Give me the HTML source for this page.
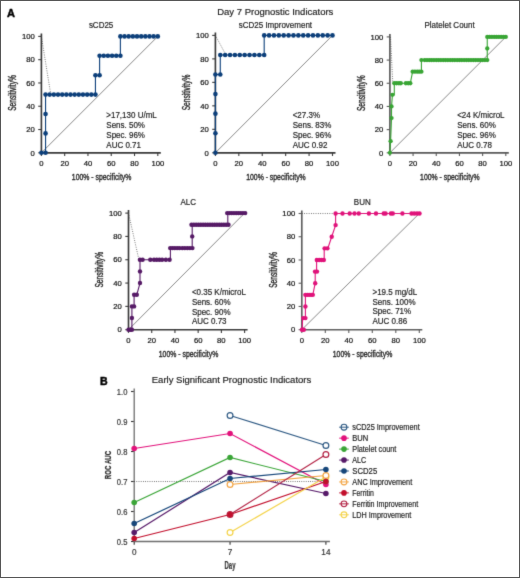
<!DOCTYPE html><html><head><meta charset="utf-8"><style>html,body{margin:0;padding:0;background:#fff;}#w{position:relative;width:520px;height:578px;overflow:hidden;}svg{display:block;font-family:"Liberation Sans",sans-serif;}#bd{position:absolute;left:0;top:0;width:518px;height:576px;border:1px solid #555;}</style></head><body><div id="w">
<svg width="520" height="578" viewBox="0 0 520 578">
<defs><filter id="bf" x="0" y="0" width="520" height="578" filterUnits="userSpaceOnUse" color-interpolation-filters="sRGB"><feConvolveMatrix order="3" kernelMatrix="0.01134 0.08382 0.01134 0.08382 0.61935 0.08382 0.01134 0.08382 0.01134" edgeMode="duplicate" preserveAlpha="true"/></filter></defs><g filter="url(#bf)">
<rect x="0" y="0" width="520" height="578" fill="#fff"/>
<text x="7.00" y="16.60" font-size="11.00" text-anchor="start" fill="#000" font-weight="bold" stroke="#000" stroke-width="0.45">A</text>
<text x="275.30" y="14.90" font-size="9.50" text-anchor="middle" fill="#222" font-weight="normal"  stroke="#222" stroke-width="0.18">Day 7 Prognostic Indicators</text>
<g stroke="#3a3a3a" stroke-width="1.65" fill="none">
<path d="M41.40,33.40 V152.80 H160.80"/>
<path d="M38.20,152.80 H41.40" stroke-width="1.1"/>
<path d="M41.40,152.80 V156.00" stroke-width="1.1"/>
<path d="M38.20,129.52 H41.40" stroke-width="1.1"/>
<path d="M64.68,152.80 V156.00" stroke-width="1.1"/>
<path d="M38.20,106.24 H41.40" stroke-width="1.1"/>
<path d="M87.96,152.80 V156.00" stroke-width="1.1"/>
<path d="M38.20,82.96 H41.40" stroke-width="1.1"/>
<path d="M111.24,152.80 V156.00" stroke-width="1.1"/>
<path d="M38.20,59.68 H41.40" stroke-width="1.1"/>
<path d="M134.52,152.80 V156.00" stroke-width="1.1"/>
<path d="M38.20,36.40 H41.40" stroke-width="1.1"/>
<path d="M157.80,152.80 V156.00" stroke-width="1.1"/>
</g>
<text x="34.80" y="155.50" font-size="7.70" text-anchor="end" fill="#111" font-weight="normal" stroke="#111" stroke-width="0.2">0</text>
<text x="41.40" y="165.90" font-size="7.70" text-anchor="middle" fill="#111" font-weight="normal" stroke="#111" stroke-width="0.2">0</text>
<text x="34.80" y="132.22" font-size="7.70" text-anchor="end" fill="#111" font-weight="normal" stroke="#111" stroke-width="0.2">20</text>
<text x="64.68" y="165.90" font-size="7.70" text-anchor="middle" fill="#111" font-weight="normal" stroke="#111" stroke-width="0.2">20</text>
<text x="34.80" y="108.94" font-size="7.70" text-anchor="end" fill="#111" font-weight="normal" stroke="#111" stroke-width="0.2">40</text>
<text x="87.96" y="165.90" font-size="7.70" text-anchor="middle" fill="#111" font-weight="normal" stroke="#111" stroke-width="0.2">40</text>
<text x="34.80" y="85.66" font-size="7.70" text-anchor="end" fill="#111" font-weight="normal" stroke="#111" stroke-width="0.2">60</text>
<text x="111.24" y="165.90" font-size="7.70" text-anchor="middle" fill="#111" font-weight="normal" stroke="#111" stroke-width="0.2">60</text>
<text x="34.80" y="62.38" font-size="7.70" text-anchor="end" fill="#111" font-weight="normal" stroke="#111" stroke-width="0.2">80</text>
<text x="134.52" y="165.90" font-size="7.70" text-anchor="middle" fill="#111" font-weight="normal" stroke="#111" stroke-width="0.2">80</text>
<text x="34.80" y="39.10" font-size="7.70" text-anchor="end" fill="#111" font-weight="normal" stroke="#111" stroke-width="0.2">100</text>
<text x="157.80" y="165.90" font-size="7.70" text-anchor="middle" fill="#111" font-weight="normal" stroke="#111" stroke-width="0.2">100</text>
<text x="101.60" y="179.80" font-size="9.80" text-anchor="middle" fill="#2a2a2a" font-weight="normal" textLength="59.5" lengthAdjust="spacingAndGlyphs" stroke="#2a2a2a" stroke-width="0.4">100% - specificity%</text>
<text x="0" y="0" font-size="10.2" font-weight="normal" text-anchor="middle" fill="#2a2a2a" stroke="#2a2a2a" stroke-width="0.4" textLength="35.6" lengthAdjust="spacingAndGlyphs" transform="translate(16.10,93.00) rotate(-90)">Sensitivity%</text>
<path d="M41.40,152.80 L157.80,36.40" stroke="#555" stroke-width="0.7" fill="none"/>
<path d="M41.40,36.40 L50.60,93.50" stroke="#4a4a4a" stroke-width="0.85" stroke-dasharray="0.85 1.45" fill="none"/>
<path d="M41.40,152.80 L45.56,152.80 L45.56,94.60 L95.44,94.60 L95.44,75.20 L99.60,75.20 L99.60,55.80 L120.39,55.80 L120.39,36.40 L157.80,36.40" stroke="#0c3f7a" stroke-width="1.1" fill="none"/>
<g fill="#0c3f7a">
<circle cx="41.40" cy="152.80" r="2.3"/>
<circle cx="45.56" cy="152.80" r="2.3"/>
<circle cx="45.56" cy="133.40" r="2.3"/>
<circle cx="45.56" cy="114.00" r="2.3"/>
<circle cx="45.56" cy="94.60" r="2.3"/>
<circle cx="49.71" cy="94.60" r="2.3"/>
<circle cx="53.87" cy="94.60" r="2.3"/>
<circle cx="58.03" cy="94.60" r="2.3"/>
<circle cx="62.19" cy="94.60" r="2.3"/>
<circle cx="66.34" cy="94.60" r="2.3"/>
<circle cx="70.50" cy="94.60" r="2.3"/>
<circle cx="74.66" cy="94.60" r="2.3"/>
<circle cx="78.81" cy="94.60" r="2.3"/>
<circle cx="82.97" cy="94.60" r="2.3"/>
<circle cx="87.13" cy="94.60" r="2.3"/>
<circle cx="91.29" cy="94.60" r="2.3"/>
<circle cx="95.44" cy="94.60" r="2.3"/>
<circle cx="95.44" cy="75.20" r="2.3"/>
<circle cx="99.60" cy="75.20" r="2.3"/>
<circle cx="99.60" cy="55.80" r="2.3"/>
<circle cx="103.76" cy="55.80" r="2.3"/>
<circle cx="107.91" cy="55.80" r="2.3"/>
<circle cx="112.07" cy="55.80" r="2.3"/>
<circle cx="116.23" cy="55.80" r="2.3"/>
<circle cx="120.39" cy="55.80" r="2.3"/>
<circle cx="120.39" cy="36.40" r="2.3"/>
<circle cx="124.54" cy="36.40" r="2.3"/>
<circle cx="128.70" cy="36.40" r="2.3"/>
<circle cx="132.86" cy="36.40" r="2.3"/>
<circle cx="137.01" cy="36.40" r="2.3"/>
<circle cx="141.17" cy="36.40" r="2.3"/>
<circle cx="145.33" cy="36.40" r="2.3"/>
<circle cx="149.49" cy="36.40" r="2.3"/>
<circle cx="153.64" cy="36.40" r="2.3"/>
<circle cx="157.80" cy="36.40" r="2.3"/>
</g>
<text x="101.10" y="27.80" font-size="8.40" text-anchor="middle" fill="#222" font-weight="normal"  textLength="24.45" lengthAdjust="spacingAndGlyphs" stroke="#222" stroke-width="0.18">sCD25</text>
<text x="106.30" y="118.00" font-size="8.40" text-anchor="start" fill="#222" font-weight="normal"  textLength="50.48" lengthAdjust="spacingAndGlyphs" stroke="#222" stroke-width="0.18">&gt;17,130 U/mL</text>
<text x="106.30" y="127.95" font-size="8.40" text-anchor="start" fill="#222" font-weight="normal"  textLength="38.69" lengthAdjust="spacingAndGlyphs" stroke="#222" stroke-width="0.18">Sens. 50%</text>
<text x="106.30" y="137.90" font-size="8.40" text-anchor="start" fill="#222" font-weight="normal"  textLength="38.69" lengthAdjust="spacingAndGlyphs" stroke="#222" stroke-width="0.18">Spec. 96%</text>
<text x="106.30" y="147.85" font-size="8.40" text-anchor="start" fill="#222" font-weight="normal"  textLength="34.68" lengthAdjust="spacingAndGlyphs" stroke="#222" stroke-width="0.18">AUC 0.71</text>
<g stroke="#3a3a3a" stroke-width="1.65" fill="none">
<path d="M215.40,32.40 V152.80 H335.50"/>
<path d="M212.20,152.80 H215.40" stroke-width="1.1"/>
<path d="M215.40,152.80 V156.00" stroke-width="1.1"/>
<path d="M212.20,129.32 H215.40" stroke-width="1.1"/>
<path d="M238.82,152.80 V156.00" stroke-width="1.1"/>
<path d="M212.20,105.84 H215.40" stroke-width="1.1"/>
<path d="M262.24,152.80 V156.00" stroke-width="1.1"/>
<path d="M212.20,82.36 H215.40" stroke-width="1.1"/>
<path d="M285.66,152.80 V156.00" stroke-width="1.1"/>
<path d="M212.20,58.88 H215.40" stroke-width="1.1"/>
<path d="M309.08,152.80 V156.00" stroke-width="1.1"/>
<path d="M212.20,35.40 H215.40" stroke-width="1.1"/>
<path d="M332.50,152.80 V156.00" stroke-width="1.1"/>
</g>
<text x="208.80" y="155.50" font-size="7.70" text-anchor="end" fill="#111" font-weight="normal" stroke="#111" stroke-width="0.2">0</text>
<text x="215.40" y="165.90" font-size="7.70" text-anchor="middle" fill="#111" font-weight="normal" stroke="#111" stroke-width="0.2">0</text>
<text x="208.80" y="132.02" font-size="7.70" text-anchor="end" fill="#111" font-weight="normal" stroke="#111" stroke-width="0.2">20</text>
<text x="238.82" y="165.90" font-size="7.70" text-anchor="middle" fill="#111" font-weight="normal" stroke="#111" stroke-width="0.2">20</text>
<text x="208.80" y="108.54" font-size="7.70" text-anchor="end" fill="#111" font-weight="normal" stroke="#111" stroke-width="0.2">40</text>
<text x="262.24" y="165.90" font-size="7.70" text-anchor="middle" fill="#111" font-weight="normal" stroke="#111" stroke-width="0.2">40</text>
<text x="208.80" y="85.06" font-size="7.70" text-anchor="end" fill="#111" font-weight="normal" stroke="#111" stroke-width="0.2">60</text>
<text x="285.66" y="165.90" font-size="7.70" text-anchor="middle" fill="#111" font-weight="normal" stroke="#111" stroke-width="0.2">60</text>
<text x="208.80" y="61.58" font-size="7.70" text-anchor="end" fill="#111" font-weight="normal" stroke="#111" stroke-width="0.2">80</text>
<text x="309.08" y="165.90" font-size="7.70" text-anchor="middle" fill="#111" font-weight="normal" stroke="#111" stroke-width="0.2">80</text>
<text x="208.80" y="38.10" font-size="7.70" text-anchor="end" fill="#111" font-weight="normal" stroke="#111" stroke-width="0.2">100</text>
<text x="332.50" y="165.90" font-size="7.70" text-anchor="middle" fill="#111" font-weight="normal" stroke="#111" stroke-width="0.2">100</text>
<text x="275.95" y="179.80" font-size="9.80" text-anchor="middle" fill="#2a2a2a" font-weight="normal" textLength="59.5" lengthAdjust="spacingAndGlyphs" stroke="#2a2a2a" stroke-width="0.4">100% - specificity%</text>
<text x="0" y="0" font-size="10.2" font-weight="normal" text-anchor="middle" fill="#2a2a2a" stroke="#2a2a2a" stroke-width="0.4" textLength="35.6" lengthAdjust="spacingAndGlyphs" transform="translate(190.10,92.50) rotate(-90)">Sensitivity%</text>
<path d="M215.40,152.80 L332.50,35.40" stroke="#555" stroke-width="0.7" fill="none"/>
<path d="M215.40,35.40 L225.20,53.60" stroke="#4a4a4a" stroke-width="0.85" stroke-dasharray="0.85 1.45" fill="none"/>
<path d="M215.40,152.80 L215.40,74.53 L220.28,74.53 L220.28,54.97 L264.19,54.97 L264.19,35.40 L332.50,35.40" stroke="#0c3f7a" stroke-width="1.1" fill="none"/>
<g fill="#0c3f7a">
<circle cx="215.40" cy="152.80" r="2.3"/>
<circle cx="215.40" cy="133.23" r="2.3"/>
<circle cx="215.40" cy="113.67" r="2.3"/>
<circle cx="215.40" cy="94.10" r="2.3"/>
<circle cx="215.40" cy="74.53" r="2.3"/>
<circle cx="220.28" cy="74.53" r="2.3"/>
<circle cx="220.28" cy="54.97" r="2.3"/>
<circle cx="225.16" cy="54.97" r="2.3"/>
<circle cx="230.04" cy="54.97" r="2.3"/>
<circle cx="234.92" cy="54.97" r="2.3"/>
<circle cx="239.80" cy="54.97" r="2.3"/>
<circle cx="244.68" cy="54.97" r="2.3"/>
<circle cx="249.55" cy="54.97" r="2.3"/>
<circle cx="254.43" cy="54.97" r="2.3"/>
<circle cx="259.31" cy="54.97" r="2.3"/>
<circle cx="264.19" cy="54.97" r="2.3"/>
<circle cx="264.19" cy="35.40" r="2.3"/>
<circle cx="269.07" cy="35.40" r="2.3"/>
<circle cx="273.95" cy="35.40" r="2.3"/>
<circle cx="278.83" cy="35.40" r="2.3"/>
<circle cx="283.71" cy="35.40" r="2.3"/>
<circle cx="288.59" cy="35.40" r="2.3"/>
<circle cx="293.47" cy="35.40" r="2.3"/>
<circle cx="298.35" cy="35.40" r="2.3"/>
<circle cx="303.23" cy="35.40" r="2.3"/>
<circle cx="308.10" cy="35.40" r="2.3"/>
<circle cx="312.98" cy="35.40" r="2.3"/>
<circle cx="317.86" cy="35.40" r="2.3"/>
<circle cx="322.74" cy="35.40" r="2.3"/>
<circle cx="327.62" cy="35.40" r="2.3"/>
<circle cx="332.50" cy="35.40" r="2.3"/>
</g>
<text x="275.40" y="27.80" font-size="8.40" text-anchor="middle" fill="#222" font-weight="normal"  textLength="73.36" lengthAdjust="spacingAndGlyphs" stroke="#222" stroke-width="0.18">sCD25 Improvement</text>
<text x="292.70" y="118.00" font-size="8.40" text-anchor="start" fill="#222" font-weight="normal"  textLength="27.36" lengthAdjust="spacingAndGlyphs" stroke="#222" stroke-width="0.18">&lt;27.3%</text>
<text x="292.70" y="127.95" font-size="8.40" text-anchor="start" fill="#222" font-weight="normal"  textLength="38.69" lengthAdjust="spacingAndGlyphs" stroke="#222" stroke-width="0.18">Sens. 83%</text>
<text x="292.70" y="137.90" font-size="8.40" text-anchor="start" fill="#222" font-weight="normal"  textLength="38.69" lengthAdjust="spacingAndGlyphs" stroke="#222" stroke-width="0.18">Spec. 96%</text>
<text x="292.70" y="147.85" font-size="8.40" text-anchor="start" fill="#222" font-weight="normal"  textLength="34.68" lengthAdjust="spacingAndGlyphs" stroke="#222" stroke-width="0.18">AUC 0.92</text>
<g stroke="#5a5a5a" stroke-width="1.65" fill="none">
<path d="M389.90,33.90 V152.80 H508.80"/>
<path d="M386.70,152.80 H389.90" stroke-width="1.1"/>
<path d="M389.90,152.80 V156.00" stroke-width="1.1"/>
<path d="M386.70,129.62 H389.90" stroke-width="1.1"/>
<path d="M413.08,152.80 V156.00" stroke-width="1.1"/>
<path d="M386.70,106.44 H389.90" stroke-width="1.1"/>
<path d="M436.26,152.80 V156.00" stroke-width="1.1"/>
<path d="M386.70,83.26 H389.90" stroke-width="1.1"/>
<path d="M459.44,152.80 V156.00" stroke-width="1.1"/>
<path d="M386.70,60.08 H389.90" stroke-width="1.1"/>
<path d="M482.62,152.80 V156.00" stroke-width="1.1"/>
<path d="M386.70,36.90 H389.90" stroke-width="1.1"/>
<path d="M505.80,152.80 V156.00" stroke-width="1.1"/>
</g>
<text x="383.30" y="155.50" font-size="7.70" text-anchor="end" fill="#111" font-weight="normal" stroke="#111" stroke-width="0.2">0</text>
<text x="389.90" y="165.90" font-size="7.70" text-anchor="middle" fill="#111" font-weight="normal" stroke="#111" stroke-width="0.2">0</text>
<text x="383.30" y="132.32" font-size="7.70" text-anchor="end" fill="#111" font-weight="normal" stroke="#111" stroke-width="0.2">20</text>
<text x="413.08" y="165.90" font-size="7.70" text-anchor="middle" fill="#111" font-weight="normal" stroke="#111" stroke-width="0.2">20</text>
<text x="383.30" y="109.14" font-size="7.70" text-anchor="end" fill="#111" font-weight="normal" stroke="#111" stroke-width="0.2">40</text>
<text x="436.26" y="165.90" font-size="7.70" text-anchor="middle" fill="#111" font-weight="normal" stroke="#111" stroke-width="0.2">40</text>
<text x="383.30" y="85.96" font-size="7.70" text-anchor="end" fill="#111" font-weight="normal" stroke="#111" stroke-width="0.2">60</text>
<text x="459.44" y="165.90" font-size="7.70" text-anchor="middle" fill="#111" font-weight="normal" stroke="#111" stroke-width="0.2">60</text>
<text x="383.30" y="62.78" font-size="7.70" text-anchor="end" fill="#111" font-weight="normal" stroke="#111" stroke-width="0.2">80</text>
<text x="482.62" y="165.90" font-size="7.70" text-anchor="middle" fill="#111" font-weight="normal" stroke="#111" stroke-width="0.2">80</text>
<text x="383.30" y="39.60" font-size="7.70" text-anchor="end" fill="#111" font-weight="normal" stroke="#111" stroke-width="0.2">100</text>
<text x="505.80" y="165.90" font-size="7.70" text-anchor="middle" fill="#111" font-weight="normal" stroke="#111" stroke-width="0.2">100</text>
<text x="449.85" y="179.80" font-size="9.80" text-anchor="middle" fill="#2a2a2a" font-weight="normal" textLength="59.5" lengthAdjust="spacingAndGlyphs" stroke="#2a2a2a" stroke-width="0.4">100% - specificity%</text>
<text x="0" y="0" font-size="10.2" font-weight="normal" text-anchor="middle" fill="#2a2a2a" stroke="#2a2a2a" stroke-width="0.4" textLength="35.6" lengthAdjust="spacingAndGlyphs" transform="translate(364.60,93.25) rotate(-90)">Sensitivity%</text>
<path d="M389.90,152.80 L505.80,36.90" stroke="#555" stroke-width="0.7" fill="none"/>
<path d="M390.50,36.90 L392.80,83.00" stroke="#4a4a4a" stroke-width="0.85" stroke-dasharray="0.85 1.45" fill="none"/>
<path d="M389.90,152.80 L390.60,141.21 L391.52,118.03 L391.52,106.44 L392.45,94.85 L394.30,94.85 L394.30,83.26 L410.30,83.26 L412.62,71.67 L421.42,71.67 L421.42,60.08 L487.26,60.08 L487.26,36.90 L505.80,36.90" stroke="#38a534" stroke-width="1.1" fill="none"/>
<g fill="#38a534">
<circle cx="389.90" cy="152.80" r="2.15"/>
<circle cx="390.60" cy="141.21" r="2.15"/>
<circle cx="391.52" cy="118.03" r="2.15"/>
<circle cx="391.52" cy="106.44" r="2.15"/>
<circle cx="392.45" cy="94.85" r="2.15"/>
<circle cx="394.30" cy="83.26" r="2.15"/>
<circle cx="396.62" cy="83.26" r="2.15"/>
<circle cx="398.94" cy="83.26" r="2.15"/>
<circle cx="400.79" cy="83.26" r="2.15"/>
<circle cx="405.89" cy="83.26" r="2.15"/>
<circle cx="408.21" cy="83.26" r="2.15"/>
<circle cx="410.30" cy="83.26" r="2.15"/>
<circle cx="412.62" cy="71.67" r="2.15"/>
<circle cx="414.93" cy="71.67" r="2.15"/>
<circle cx="417.25" cy="71.67" r="2.15"/>
<circle cx="419.34" cy="71.67" r="2.15"/>
<circle cx="421.42" cy="71.67" r="2.15"/>
<circle cx="421.42" cy="60.08" r="2.15"/>
<circle cx="424.67" cy="60.08" r="2.15"/>
<circle cx="426.99" cy="60.08" r="2.15"/>
<circle cx="429.31" cy="60.08" r="2.15"/>
<circle cx="431.62" cy="60.08" r="2.15"/>
<circle cx="433.94" cy="60.08" r="2.15"/>
<circle cx="436.26" cy="60.08" r="2.15"/>
<circle cx="438.58" cy="60.08" r="2.15"/>
<circle cx="440.90" cy="60.08" r="2.15"/>
<circle cx="443.21" cy="60.08" r="2.15"/>
<circle cx="445.53" cy="60.08" r="2.15"/>
<circle cx="447.85" cy="60.08" r="2.15"/>
<circle cx="450.17" cy="60.08" r="2.15"/>
<circle cx="452.49" cy="60.08" r="2.15"/>
<circle cx="454.80" cy="60.08" r="2.15"/>
<circle cx="457.12" cy="60.08" r="2.15"/>
<circle cx="459.44" cy="60.08" r="2.15"/>
<circle cx="461.76" cy="60.08" r="2.15"/>
<circle cx="464.08" cy="60.08" r="2.15"/>
<circle cx="466.39" cy="60.08" r="2.15"/>
<circle cx="468.71" cy="60.08" r="2.15"/>
<circle cx="471.03" cy="60.08" r="2.15"/>
<circle cx="473.35" cy="60.08" r="2.15"/>
<circle cx="475.67" cy="60.08" r="2.15"/>
<circle cx="477.98" cy="60.08" r="2.15"/>
<circle cx="480.30" cy="60.08" r="2.15"/>
<circle cx="482.62" cy="60.08" r="2.15"/>
<circle cx="484.94" cy="60.08" r="2.15"/>
<circle cx="487.26" cy="60.08" r="2.15"/>
<circle cx="487.26" cy="48.49" r="2.15"/>
<circle cx="487.26" cy="36.90" r="2.15"/>
<circle cx="489.57" cy="36.90" r="2.15"/>
<circle cx="491.89" cy="36.90" r="2.15"/>
<circle cx="494.21" cy="36.90" r="2.15"/>
<circle cx="496.53" cy="36.90" r="2.15"/>
<circle cx="498.85" cy="36.90" r="2.15"/>
<circle cx="501.16" cy="36.90" r="2.15"/>
<circle cx="503.48" cy="36.90" r="2.15"/>
<circle cx="505.80" cy="36.90" r="2.15"/>
</g>
<text x="449.60" y="27.80" font-size="8.40" text-anchor="middle" fill="#222" font-weight="normal"  textLength="50.26" lengthAdjust="spacingAndGlyphs" stroke="#222" stroke-width="0.18">Platelet Count</text>
<text x="457.20" y="118.00" font-size="8.40" text-anchor="start" fill="#222" font-weight="normal"  textLength="47.36" lengthAdjust="spacingAndGlyphs" stroke="#222" stroke-width="0.18">&lt;24 K/microL</text>
<text x="457.20" y="127.95" font-size="8.40" text-anchor="start" fill="#222" font-weight="normal"  textLength="38.69" lengthAdjust="spacingAndGlyphs" stroke="#222" stroke-width="0.18">Sens. 60%</text>
<text x="457.20" y="137.90" font-size="8.40" text-anchor="start" fill="#222" font-weight="normal"  textLength="38.69" lengthAdjust="spacingAndGlyphs" stroke="#222" stroke-width="0.18">Spec. 96%</text>
<text x="457.20" y="147.85" font-size="8.40" text-anchor="start" fill="#222" font-weight="normal"  textLength="34.68" lengthAdjust="spacingAndGlyphs" stroke="#222" stroke-width="0.18">AUC 0.78</text>
<g stroke="#3a3a3a" stroke-width="1.65" fill="none">
<path d="M128.50,210.10 V329.70 H247.60"/>
<path d="M125.30,329.70 H128.50" stroke-width="1.1"/>
<path d="M128.50,329.70 V332.90" stroke-width="1.1"/>
<path d="M125.30,306.38 H128.50" stroke-width="1.1"/>
<path d="M151.72,329.70 V332.90" stroke-width="1.1"/>
<path d="M125.30,283.06 H128.50" stroke-width="1.1"/>
<path d="M174.94,329.70 V332.90" stroke-width="1.1"/>
<path d="M125.30,259.74 H128.50" stroke-width="1.1"/>
<path d="M198.16,329.70 V332.90" stroke-width="1.1"/>
<path d="M125.30,236.42 H128.50" stroke-width="1.1"/>
<path d="M221.38,329.70 V332.90" stroke-width="1.1"/>
<path d="M125.30,213.10 H128.50" stroke-width="1.1"/>
<path d="M244.60,329.70 V332.90" stroke-width="1.1"/>
</g>
<text x="121.90" y="332.40" font-size="7.70" text-anchor="end" fill="#111" font-weight="normal" stroke="#111" stroke-width="0.2">0</text>
<text x="128.50" y="342.80" font-size="7.70" text-anchor="middle" fill="#111" font-weight="normal" stroke="#111" stroke-width="0.2">0</text>
<text x="121.90" y="309.08" font-size="7.70" text-anchor="end" fill="#111" font-weight="normal" stroke="#111" stroke-width="0.2">20</text>
<text x="151.72" y="342.80" font-size="7.70" text-anchor="middle" fill="#111" font-weight="normal" stroke="#111" stroke-width="0.2">20</text>
<text x="121.90" y="285.76" font-size="7.70" text-anchor="end" fill="#111" font-weight="normal" stroke="#111" stroke-width="0.2">40</text>
<text x="174.94" y="342.80" font-size="7.70" text-anchor="middle" fill="#111" font-weight="normal" stroke="#111" stroke-width="0.2">40</text>
<text x="121.90" y="262.44" font-size="7.70" text-anchor="end" fill="#111" font-weight="normal" stroke="#111" stroke-width="0.2">60</text>
<text x="198.16" y="342.80" font-size="7.70" text-anchor="middle" fill="#111" font-weight="normal" stroke="#111" stroke-width="0.2">60</text>
<text x="121.90" y="239.12" font-size="7.70" text-anchor="end" fill="#111" font-weight="normal" stroke="#111" stroke-width="0.2">80</text>
<text x="221.38" y="342.80" font-size="7.70" text-anchor="middle" fill="#111" font-weight="normal" stroke="#111" stroke-width="0.2">80</text>
<text x="121.90" y="215.80" font-size="7.70" text-anchor="end" fill="#111" font-weight="normal" stroke="#111" stroke-width="0.2">100</text>
<text x="244.60" y="342.80" font-size="7.70" text-anchor="middle" fill="#111" font-weight="normal" stroke="#111" stroke-width="0.2">100</text>
<text x="188.55" y="356.70" font-size="9.80" text-anchor="middle" fill="#2a2a2a" font-weight="normal" textLength="59.5" lengthAdjust="spacingAndGlyphs" stroke="#2a2a2a" stroke-width="0.4">100% - specificity%</text>
<text x="0" y="0" font-size="10.2" font-weight="normal" text-anchor="middle" fill="#2a2a2a" stroke="#2a2a2a" stroke-width="0.4" textLength="35.6" lengthAdjust="spacingAndGlyphs" transform="translate(103.20,269.80) rotate(-90)">Sensitivity%</text>
<path d="M128.50,329.70 L244.60,213.10" stroke="#555" stroke-width="0.7" fill="none"/>
<path d="M128.50,213.10 L138.50,257.90" stroke="#4a4a4a" stroke-width="0.85" stroke-dasharray="0.85 1.45" fill="none"/>
<path d="M128.50,329.70 L131.90,329.70 L131.90,306.38 L134.10,306.38 L134.10,294.72 L136.80,294.72 L140.00,283.06 L140.00,259.74 L170.40,259.74 L170.40,248.08 L192.20,248.08 L192.20,224.76 L227.80,224.76 L227.80,213.10 L244.60,213.10" stroke="#561a66" stroke-width="1.1" fill="none"/>
<g fill="#561a66">
<circle cx="128.50" cy="329.70" r="2.2"/>
<circle cx="130.30" cy="329.70" r="2.2"/>
<circle cx="131.90" cy="329.70" r="2.2"/>
<circle cx="131.90" cy="318.04" r="2.2"/>
<circle cx="131.90" cy="306.38" r="2.2"/>
<circle cx="134.10" cy="306.38" r="2.2"/>
<circle cx="134.10" cy="294.72" r="2.2"/>
<circle cx="136.80" cy="294.72" r="2.2"/>
<circle cx="140.00" cy="283.06" r="2.2"/>
<circle cx="140.00" cy="271.40" r="2.2"/>
<circle cx="139.90" cy="259.74" r="2.2"/>
<circle cx="142.60" cy="259.74" r="2.2"/>
<circle cx="150.30" cy="259.74" r="2.2"/>
<circle cx="154.00" cy="259.74" r="2.2"/>
<circle cx="156.70" cy="259.74" r="2.2"/>
<circle cx="159.40" cy="259.74" r="2.2"/>
<circle cx="162.10" cy="259.74" r="2.2"/>
<circle cx="165.90" cy="259.74" r="2.2"/>
<circle cx="169.60" cy="259.74" r="2.2"/>
<circle cx="170.20" cy="248.08" r="2.2"/>
<circle cx="172.50" cy="248.08" r="2.2"/>
<circle cx="174.80" cy="248.08" r="2.2"/>
<circle cx="177.10" cy="248.08" r="2.2"/>
<circle cx="179.40" cy="248.08" r="2.2"/>
<circle cx="182.30" cy="248.08" r="2.2"/>
<circle cx="184.83" cy="248.08" r="2.2"/>
<circle cx="187.35" cy="248.08" r="2.2"/>
<circle cx="189.88" cy="248.08" r="2.2"/>
<circle cx="192.40" cy="248.08" r="2.2"/>
<circle cx="192.20" cy="236.42" r="2.2"/>
<circle cx="191.50" cy="224.76" r="2.2"/>
<circle cx="193.81" cy="224.76" r="2.2"/>
<circle cx="196.12" cy="224.76" r="2.2"/>
<circle cx="198.44" cy="224.76" r="2.2"/>
<circle cx="200.75" cy="224.76" r="2.2"/>
<circle cx="203.06" cy="224.76" r="2.2"/>
<circle cx="205.38" cy="224.76" r="2.2"/>
<circle cx="207.69" cy="224.76" r="2.2"/>
<circle cx="210.00" cy="224.76" r="2.2"/>
<circle cx="212.31" cy="224.76" r="2.2"/>
<circle cx="214.62" cy="224.76" r="2.2"/>
<circle cx="216.94" cy="224.76" r="2.2"/>
<circle cx="219.25" cy="224.76" r="2.2"/>
<circle cx="221.56" cy="224.76" r="2.2"/>
<circle cx="223.88" cy="224.76" r="2.2"/>
<circle cx="226.19" cy="224.76" r="2.2"/>
<circle cx="228.50" cy="224.76" r="2.2"/>
<circle cx="227.20" cy="213.10" r="2.2"/>
<circle cx="229.45" cy="213.10" r="2.2"/>
<circle cx="231.70" cy="213.10" r="2.2"/>
<circle cx="233.95" cy="213.10" r="2.2"/>
<circle cx="236.20" cy="213.10" r="2.2"/>
<circle cx="238.45" cy="213.10" r="2.2"/>
<circle cx="240.70" cy="213.10" r="2.2"/>
<circle cx="242.95" cy="213.10" r="2.2"/>
<circle cx="245.20" cy="213.10" r="2.2"/>
</g>
<text x="188.30" y="204.70" font-size="8.40" text-anchor="middle" fill="#222" font-weight="normal"  textLength="15.56" lengthAdjust="spacingAndGlyphs" stroke="#222" stroke-width="0.18">ALC</text>
<text x="191.90" y="295.00" font-size="8.40" text-anchor="start" fill="#222" font-weight="normal"  textLength="54.03" lengthAdjust="spacingAndGlyphs" stroke="#222" stroke-width="0.18">&lt;0.35 K/microL</text>
<text x="191.90" y="304.80" font-size="8.40" text-anchor="start" fill="#222" font-weight="normal"  textLength="38.69" lengthAdjust="spacingAndGlyphs" stroke="#222" stroke-width="0.18">Sens. 60%</text>
<text x="191.90" y="314.60" font-size="8.40" text-anchor="start" fill="#222" font-weight="normal"  textLength="38.69" lengthAdjust="spacingAndGlyphs" stroke="#222" stroke-width="0.18">Spec. 90%</text>
<text x="191.90" y="324.40" font-size="8.40" text-anchor="start" fill="#222" font-weight="normal"  textLength="34.68" lengthAdjust="spacingAndGlyphs" stroke="#222" stroke-width="0.18">AUC 0.73</text>
<g stroke="#5e5e5e" stroke-width="1.65" fill="none">
<path d="M301.80,210.50 V329.70 H422.30"/>
<path d="M298.60,329.70 H301.80" stroke-width="1.1"/>
<path d="M301.80,329.70 V332.90" stroke-width="1.1"/>
<path d="M298.60,306.46 H301.80" stroke-width="1.1"/>
<path d="M325.30,329.70 V332.90" stroke-width="1.1"/>
<path d="M298.60,283.22 H301.80" stroke-width="1.1"/>
<path d="M348.80,329.70 V332.90" stroke-width="1.1"/>
<path d="M298.60,259.98 H301.80" stroke-width="1.1"/>
<path d="M372.30,329.70 V332.90" stroke-width="1.1"/>
<path d="M298.60,236.74 H301.80" stroke-width="1.1"/>
<path d="M395.80,329.70 V332.90" stroke-width="1.1"/>
<path d="M298.60,213.50 H301.80" stroke-width="1.1"/>
<path d="M419.30,329.70 V332.90" stroke-width="1.1"/>
</g>
<text x="295.20" y="332.40" font-size="7.70" text-anchor="end" fill="#111" font-weight="normal" stroke="#111" stroke-width="0.2">0</text>
<text x="301.80" y="342.80" font-size="7.70" text-anchor="middle" fill="#111" font-weight="normal" stroke="#111" stroke-width="0.2">0</text>
<text x="295.20" y="309.16" font-size="7.70" text-anchor="end" fill="#111" font-weight="normal" stroke="#111" stroke-width="0.2">20</text>
<text x="325.30" y="342.80" font-size="7.70" text-anchor="middle" fill="#111" font-weight="normal" stroke="#111" stroke-width="0.2">20</text>
<text x="295.20" y="285.92" font-size="7.70" text-anchor="end" fill="#111" font-weight="normal" stroke="#111" stroke-width="0.2">40</text>
<text x="348.80" y="342.80" font-size="7.70" text-anchor="middle" fill="#111" font-weight="normal" stroke="#111" stroke-width="0.2">40</text>
<text x="295.20" y="262.68" font-size="7.70" text-anchor="end" fill="#111" font-weight="normal" stroke="#111" stroke-width="0.2">60</text>
<text x="372.30" y="342.80" font-size="7.70" text-anchor="middle" fill="#111" font-weight="normal" stroke="#111" stroke-width="0.2">60</text>
<text x="295.20" y="239.44" font-size="7.70" text-anchor="end" fill="#111" font-weight="normal" stroke="#111" stroke-width="0.2">80</text>
<text x="395.80" y="342.80" font-size="7.70" text-anchor="middle" fill="#111" font-weight="normal" stroke="#111" stroke-width="0.2">80</text>
<text x="295.20" y="216.20" font-size="7.70" text-anchor="end" fill="#111" font-weight="normal" stroke="#111" stroke-width="0.2">100</text>
<text x="419.30" y="342.80" font-size="7.70" text-anchor="middle" fill="#111" font-weight="normal" stroke="#111" stroke-width="0.2">100</text>
<text x="362.55" y="356.70" font-size="9.80" text-anchor="middle" fill="#2a2a2a" font-weight="normal" textLength="59.5" lengthAdjust="spacingAndGlyphs" stroke="#2a2a2a" stroke-width="0.4">100% - specificity%</text>
<text x="0" y="0" font-size="10.2" font-weight="normal" text-anchor="middle" fill="#2a2a2a" stroke="#2a2a2a" stroke-width="0.4" textLength="35.6" lengthAdjust="spacingAndGlyphs" transform="translate(276.50,270.00) rotate(-90)">Sensitivity%</text>
<path d="M301.80,329.70 L419.30,213.50" stroke="#555" stroke-width="0.7" fill="none"/>
<path d="M301.80,213.50 L335.40,213.50" stroke="#4a4a4a" stroke-width="0.85" stroke-dasharray="0.85 1.45" fill="none"/>
<path d="M302.20,329.70 L302.60,318.08 L305.40,318.08 L305.40,294.84 L312.80,294.84 L315.20,283.22 L315.20,271.60 L316.60,271.60 L316.60,259.98 L324.20,259.98 L324.20,248.36 L327.80,248.36 L331.70,236.74 L335.60,225.12 L335.60,213.50 L419.50,213.50" stroke="#e0127a" stroke-width="1.1" fill="none"/>
<g fill="#e0127a">
<circle cx="302.00" cy="329.70" r="2.2"/>
<circle cx="303.80" cy="329.70" r="2.2"/>
<circle cx="303.20" cy="318.08" r="2.2"/>
<circle cx="305.40" cy="318.08" r="2.2"/>
<circle cx="305.40" cy="306.46" r="2.2"/>
<circle cx="305.40" cy="294.84" r="2.2"/>
<circle cx="307.30" cy="294.84" r="2.2"/>
<circle cx="309.20" cy="294.84" r="2.2"/>
<circle cx="311.10" cy="294.84" r="2.2"/>
<circle cx="312.80" cy="294.84" r="2.2"/>
<circle cx="315.20" cy="283.22" r="2.2"/>
<circle cx="315.00" cy="271.60" r="2.2"/>
<circle cx="317.00" cy="271.60" r="2.2"/>
<circle cx="316.80" cy="259.98" r="2.2"/>
<circle cx="319.20" cy="259.98" r="2.2"/>
<circle cx="321.60" cy="259.98" r="2.2"/>
<circle cx="323.80" cy="259.98" r="2.2"/>
<circle cx="324.60" cy="248.36" r="2.2"/>
<circle cx="327.40" cy="248.36" r="2.2"/>
<circle cx="331.70" cy="236.74" r="2.2"/>
<circle cx="335.60" cy="225.12" r="2.2"/>
<circle cx="335.60" cy="213.50" r="2.2"/>
<circle cx="342.50" cy="213.50" r="2.2"/>
<circle cx="349.70" cy="213.50" r="2.2"/>
<circle cx="354.50" cy="213.50" r="2.2"/>
<circle cx="358.80" cy="213.50" r="2.2"/>
<circle cx="368.90" cy="213.50" r="2.2"/>
<circle cx="376.00" cy="213.50" r="2.2"/>
<circle cx="383.70" cy="213.50" r="2.2"/>
<circle cx="385.60" cy="213.50" r="2.2"/>
<circle cx="390.90" cy="213.50" r="2.2"/>
<circle cx="392.80" cy="213.50" r="2.2"/>
<circle cx="402.40" cy="213.50" r="2.2"/>
<circle cx="411.50" cy="213.50" r="2.2"/>
<circle cx="414.20" cy="213.50" r="2.2"/>
<circle cx="417.00" cy="213.50" r="2.2"/>
<circle cx="419.50" cy="213.50" r="2.2"/>
</g>
<text x="362.30" y="204.70" font-size="8.40" text-anchor="middle" fill="#222" font-weight="normal"  textLength="16.89" lengthAdjust="spacingAndGlyphs" stroke="#222" stroke-width="0.18">BUN</text>
<text x="372.50" y="294.60" font-size="8.40" text-anchor="start" fill="#222" font-weight="normal"  textLength="44.70" lengthAdjust="spacingAndGlyphs" stroke="#222" stroke-width="0.18">&gt;19.5 mg/dL</text>
<text x="372.50" y="304.50" font-size="8.40" text-anchor="start" fill="#222" font-weight="normal"  textLength="43.14" lengthAdjust="spacingAndGlyphs" stroke="#222" stroke-width="0.18">Sens. 100%</text>
<text x="372.50" y="314.40" font-size="8.40" text-anchor="start" fill="#222" font-weight="normal"  textLength="38.69" lengthAdjust="spacingAndGlyphs" stroke="#222" stroke-width="0.18">Spec. 71%</text>
<text x="372.50" y="324.30" font-size="8.40" text-anchor="start" fill="#222" font-weight="normal"  textLength="34.68" lengthAdjust="spacingAndGlyphs" stroke="#222" stroke-width="0.18">AUC 0.86</text>
<text x="99.90" y="384.60" font-size="10.60" text-anchor="start" fill="#000" font-weight="bold" stroke="#000" stroke-width="0.45">B</text>
<text x="231.50" y="383.30" font-size="9.50" text-anchor="middle" fill="#222" font-weight="normal"  stroke="#222" stroke-width="0.18">Early Significant Prognostic Indicators</text>
<g stroke="#6e6e6e" stroke-width="1.3" fill="none">
<path d="M134.20,388.50 V541.50 H329.90"/>
<path d="M131.00,541.50 H133.70" stroke-width="1.1" stroke="#333"/>
<path d="M131.00,511.50 H133.70" stroke-width="1.1" stroke="#333"/>
<path d="M131.00,481.50 H133.70" stroke-width="1.1" stroke="#333"/>
<path d="M131.00,451.50 H133.70" stroke-width="1.1" stroke="#333"/>
<path d="M131.00,421.50 H133.70" stroke-width="1.1" stroke="#333"/>
<path d="M131.00,391.50 H133.70" stroke-width="1.1" stroke="#333"/>
<path d="M134.20,542.00 V544.70" stroke-width="1.1" stroke="#333"/>
<path d="M230.05,542.00 V544.70" stroke-width="1.1" stroke="#333"/>
<path d="M325.90,542.00 V544.70" stroke-width="1.1" stroke="#333"/>
</g>
<text x="127.40" y="544.80" font-size="8.36" text-anchor="end" fill="#333" font-weight="normal"  textLength="10.57" lengthAdjust="spacingAndGlyphs" stroke="#333" stroke-width="0.18">0.5</text>
<text x="127.40" y="514.80" font-size="8.36" text-anchor="end" fill="#333" font-weight="normal"  textLength="10.57" lengthAdjust="spacingAndGlyphs" stroke="#333" stroke-width="0.18">0.6</text>
<text x="127.40" y="484.80" font-size="8.36" text-anchor="end" fill="#333" font-weight="normal"  textLength="10.57" lengthAdjust="spacingAndGlyphs" stroke="#333" stroke-width="0.18">0.7</text>
<text x="127.40" y="454.80" font-size="8.36" text-anchor="end" fill="#333" font-weight="normal"  textLength="10.57" lengthAdjust="spacingAndGlyphs" stroke="#333" stroke-width="0.18">0.8</text>
<text x="127.40" y="424.80" font-size="8.36" text-anchor="end" fill="#333" font-weight="normal"  textLength="10.57" lengthAdjust="spacingAndGlyphs" stroke="#333" stroke-width="0.18">0.9</text>
<text x="127.40" y="394.80" font-size="8.36" text-anchor="end" fill="#333" font-weight="normal"  textLength="10.57" lengthAdjust="spacingAndGlyphs" stroke="#333" stroke-width="0.18">1.0</text>
<text x="134.20" y="554.90" font-size="8.61" text-anchor="middle" fill="#333" font-weight="normal"  textLength="4.56" lengthAdjust="spacingAndGlyphs" stroke="#333" stroke-width="0.18">0</text>
<text x="230.05" y="554.90" font-size="8.61" text-anchor="middle" fill="#333" font-weight="normal"  textLength="4.56" lengthAdjust="spacingAndGlyphs" stroke="#333" stroke-width="0.18">7</text>
<text x="325.90" y="554.90" font-size="8.61" text-anchor="middle" fill="#333" font-weight="normal"  textLength="9.12" lengthAdjust="spacingAndGlyphs" stroke="#333" stroke-width="0.18">14</text>
<text x="0" y="0" font-size="9.95" font-weight="bold" text-anchor="middle" fill="#333" stroke="#333" stroke-width="0.3" textLength="28.4" lengthAdjust="spacingAndGlyphs" transform="translate(111.0,465.0) rotate(-90)">ROC AUC</text>
<text x="230.00" y="568.60" font-size="10.20" text-anchor="middle" fill="#333" font-weight="bold" textLength="11" lengthAdjust="spacingAndGlyphs" stroke="#333" stroke-width="0.18">Day</text>
<path d="M134.20,481.50 H317.90" stroke="#333" stroke-width="0.8" stroke-dasharray="0.8 1.4" fill="none"/>
<path d="M230.05,415.50 L325.90,445.50" stroke="#2f5a84" stroke-width="1.2" fill="none"/>
<path d="M134.20,448.50 L230.05,433.50 L325.90,484.50" stroke="#e2127b" stroke-width="1.2" fill="none"/>
<path d="M134.20,502.50 L230.05,457.50 L325.90,481.50" stroke="#3aa537" stroke-width="1.2" fill="none"/>
<path d="M134.20,532.50 L230.05,472.50 L325.90,493.50" stroke="#571a69" stroke-width="1.2" fill="none"/>
<path d="M134.20,523.50 L230.05,478.50 L325.90,469.50" stroke="#16467a" stroke-width="1.2" fill="none"/>
<path d="M230.05,484.50 L325.90,475.50" stroke="#f3a545" stroke-width="1.2" fill="none"/>
<path d="M134.20,538.50 L230.05,514.50 L325.90,481.50" stroke="#c20f2c" stroke-width="1.2" fill="none"/>
<path d="M230.05,514.50 L325.90,454.50" stroke="#b22143" stroke-width="1.2" fill="none"/>
<path d="M230.05,532.50 L325.90,477.00" stroke="#f4d34a" stroke-width="1.2" fill="none"/>
<circle cx="230.05" cy="532.50" r="2.9" fill="#fff" stroke="#f4d34a" stroke-width="1.2"/>
<circle cx="325.90" cy="477.00" r="2.9" fill="#fff" stroke="#f4d34a" stroke-width="1.2"/>
<circle cx="230.05" cy="514.50" r="2.9" fill="#fff" stroke="#b22143" stroke-width="1.2"/>
<circle cx="325.90" cy="454.50" r="2.9" fill="#fff" stroke="#b22143" stroke-width="1.2"/>
<circle cx="230.05" cy="484.50" r="2.9" fill="#fff" stroke="#f3a545" stroke-width="1.2"/>
<circle cx="325.90" cy="475.50" r="2.9" fill="#fff" stroke="#f3a545" stroke-width="1.2"/>
<circle cx="230.05" cy="415.50" r="2.9" fill="#fff" stroke="#2f5a84" stroke-width="1.2"/>
<circle cx="325.90" cy="445.50" r="2.9" fill="#fff" stroke="#2f5a84" stroke-width="1.2"/>
<circle cx="134.20" cy="448.50" r="2.8" fill="#e2127b"/>
<circle cx="230.05" cy="433.50" r="2.8" fill="#e2127b"/>
<circle cx="325.90" cy="484.50" r="2.8" fill="#e2127b"/>
<circle cx="134.20" cy="502.50" r="2.8" fill="#3aa537"/>
<circle cx="230.05" cy="457.50" r="2.8" fill="#3aa537"/>
<circle cx="325.90" cy="481.50" r="2.8" fill="#3aa537"/>
<circle cx="134.20" cy="532.50" r="2.8" fill="#571a69"/>
<circle cx="230.05" cy="472.50" r="2.8" fill="#571a69"/>
<circle cx="325.90" cy="493.50" r="2.8" fill="#571a69"/>
<circle cx="134.20" cy="523.50" r="2.8" fill="#16467a"/>
<circle cx="230.05" cy="478.50" r="2.8" fill="#16467a"/>
<circle cx="325.90" cy="469.50" r="2.8" fill="#16467a"/>
<circle cx="134.20" cy="538.50" r="2.8" fill="#c20f2c"/>
<circle cx="230.05" cy="514.50" r="2.8" fill="#c20f2c"/>
<circle cx="325.90" cy="481.50" r="2.8" fill="#c20f2c"/>
<circle cx="344" cy="427.20" r="2.9" fill="#fff" stroke="#2f5a84" stroke-width="1.1"/>
<path d="M339.2,427.20 H348.8" stroke="#2f5a84" stroke-width="1.0"/>
<text x="352.30" y="430.00" font-size="8.25" text-anchor="start" fill="#222" font-weight="normal" textLength="67.4" lengthAdjust="spacingAndGlyphs" stroke="#222" stroke-width="0.18">sCD25 Improvement</text>
<circle cx="344" cy="438.15" r="2.8" fill="#e2127b"/>
<path d="M339.2,438.15 H348.8" stroke="#e2127b" stroke-width="1.0"/>
<text x="352.30" y="440.95" font-size="8.25" text-anchor="start" fill="#222" font-weight="normal" textLength="16.0" lengthAdjust="spacingAndGlyphs" stroke="#222" stroke-width="0.18">BUN</text>
<circle cx="344" cy="449.10" r="2.8" fill="#3aa537"/>
<path d="M339.2,449.10 H348.8" stroke="#3aa537" stroke-width="1.0"/>
<text x="352.30" y="451.90" font-size="8.25" text-anchor="start" fill="#222" font-weight="normal" textLength="44.0" lengthAdjust="spacingAndGlyphs" stroke="#222" stroke-width="0.18">Platelet count</text>
<circle cx="344" cy="460.05" r="2.8" fill="#571a69"/>
<path d="M339.2,460.05 H348.8" stroke="#571a69" stroke-width="1.0"/>
<text x="352.30" y="462.85" font-size="8.25" text-anchor="start" fill="#222" font-weight="normal" textLength="13.9" lengthAdjust="spacingAndGlyphs" stroke="#222" stroke-width="0.18">ALC</text>
<circle cx="344" cy="471.00" r="2.8" fill="#16467a"/>
<path d="M339.2,471.00 H348.8" stroke="#16467a" stroke-width="1.0"/>
<text x="352.30" y="473.80" font-size="8.25" text-anchor="start" fill="#222" font-weight="normal" textLength="24.9" lengthAdjust="spacingAndGlyphs" stroke="#222" stroke-width="0.18">SCD25</text>
<circle cx="344" cy="481.95" r="2.9" fill="#fff" stroke="#f3a545" stroke-width="1.1"/>
<path d="M339.2,481.95 H348.8" stroke="#f3a545" stroke-width="1.0"/>
<text x="352.30" y="484.75" font-size="8.25" text-anchor="start" fill="#222" font-weight="normal" textLength="59.9" lengthAdjust="spacingAndGlyphs" stroke="#222" stroke-width="0.18">ANC Improvement</text>
<circle cx="344" cy="492.90" r="2.8" fill="#c20f2c"/>
<path d="M339.2,492.90 H348.8" stroke="#c20f2c" stroke-width="1.0"/>
<text x="352.30" y="495.70" font-size="8.25" text-anchor="start" fill="#222" font-weight="normal" textLength="21.5" lengthAdjust="spacingAndGlyphs" stroke="#222" stroke-width="0.18">Ferritin</text>
<circle cx="344" cy="503.85" r="2.9" fill="#fff" stroke="#b22143" stroke-width="1.1"/>
<path d="M339.2,503.85 H348.8" stroke="#b22143" stroke-width="1.0"/>
<text x="352.30" y="506.65" font-size="8.25" text-anchor="start" fill="#222" font-weight="normal" textLength="65.9" lengthAdjust="spacingAndGlyphs" stroke="#222" stroke-width="0.18">Ferritin Improvement</text>
<circle cx="344" cy="514.80" r="2.9" fill="#fff" stroke="#f4d34a" stroke-width="1.1"/>
<path d="M339.2,514.80 H348.8" stroke="#f4d34a" stroke-width="1.0"/>
<text x="352.30" y="517.60" font-size="8.25" text-anchor="start" fill="#222" font-weight="normal" textLength="58.9" lengthAdjust="spacingAndGlyphs" stroke="#222" stroke-width="0.18">LDH Improvement</text>
</g></svg><div id="bd"></div></div></body></html>
